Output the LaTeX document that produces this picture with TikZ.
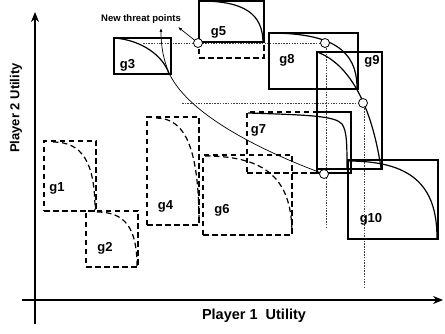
\documentclass[tikz,border=0pt]{standalone}
\usepackage{fontspec}
\setmainfont{Liberation Sans}
\usepackage{tikz}
\usetikzlibrary{arrows.meta}
\usetikzlibrary{calc}
\tikzset{every picture/.style={line width=1.2pt}}

\begin{document}
\begin{tikzpicture}[x=1pt, y=-1pt,
  dashbox/.style={draw, dash pattern=on 5.5pt off 3.5pt, inner sep=0pt},
  solidbox/.style={draw, inner sep=0pt},
  glabel/.style={font=\fontsize{13}{15}\selectfont\bfseries, inner sep=0pt},
  dotline/.style={line width=0.6pt, black!75, dash pattern=on 1.5pt off 1.2pt},
  threat/.style={circle, draw, fill=white, line width=0.8pt, minimum size=9pt, inner sep=0pt}]
\useasboundingbox (0,0) rectangle (445,334);

% axes
\coordinate (o1) at (22,300);
\coordinate (xe) at (443,300);
\coordinate (o2) at (35,324);
\coordinate (ye) at (35,12);
\draw [-{Stealth[length=10pt,width=8pt]}, line width=1.3pt] (o1) -- (xe);
\draw [-{Stealth[length=10pt,width=8pt]}, line width=1.3pt] (o2) -- (ye);
\node (xl) at (254,316) [font=\fontsize{14.5}{16}\selectfont\bfseries] {Player 1\ \ Utility};
\node (yl) at (16,108) [rotate=90, font=\fontsize{13}{15}\selectfont\bfseries] {Player 2 Utility};

% dotted guide lines
\coordinate (d1) at (143,43);
\coordinate (d2) at (182,103);
\coordinate (d3) at (326,229);
\coordinate (d4) at (364,288);
\draw [dotline] (d1) -- (325,43);
\draw [dotline] (d2) -- (363,103);
\draw [dotline] (326,43) -- (d3);
\draw [dotline] (364,103) -- (d4);

% original games
\node (g1) at (70,176) [dashbox, minimum width=52pt, minimum height=70pt] {};
\node (g2) at (112,239) [dashbox, minimum width=52pt, minimum height=56pt] {};
\node (g4) at (173,171) [dashbox, minimum width=52pt, minimum height=108pt] {};
\node (g6) at (247.5,195) [dashbox, minimum width=89pt, minimum height=80pt] {};
\node (g7) at (299,142.5) [dashbox, minimum width=104pt, minimum height=61pt] {};
\node (g5o) at (231.5,50) [dashbox, minimum width=65pt, minimum height=16pt] {};
\draw [dash pattern=on 5.5pt off 3.5pt] (53,142) .. controls (82,142) and (95,162) .. (95,210);
\draw [dash pattern=on 5.5pt off 3.5pt] (97,212) .. controls (125,212) and (137,228) .. (137,266);
\draw [dash pattern=on 5.5pt off 3.5pt] (156,118) .. controls (186,118) and (199,150) .. (199,224);
\draw [dash pattern=on 5.5pt off 3.5pt] (205,156) .. controls (266,156) and (292,179) .. (292,234);

% solid games
\node (g3) at (142.5,56) [solidbox, minimum width=57pt, minimum height=36pt] {};
\node (g5) at (231.5,21.5) [solidbox, minimum width=65pt, minimum height=41pt] {};
\node (g7s) at (334,142.5) [solidbox, minimum width=34pt, minimum height=61pt] {};
\node (g8) at (313.5,61) [solidbox, minimum width=89pt, minimum height=56pt] {};
\node (g9) at (349.5,110.5) [solidbox, minimum width=65pt, minimum height=117pt] {};
\node (g10) at (393,199.5) [solidbox, minimum width=90pt, minimum height=79pt] {};
\draw (114,38) .. controls (141.5,39.8) and (163.5,56) .. (169,74);
\draw (200,1) .. controls (244,1) and (263,13.6) .. (263,43);
\draw (248,113) .. controls (310,115) and (335,116) .. (342,124) .. controls (347,131) and (347,145) .. (347,170);
\draw (269,33) .. controls (331,33) and (357,49.5) .. (357,88);
\draw (317,52) .. controls (349,63.6) and (371.4,104.2) .. (381,168);
\draw (348,161) .. controls (410,161) and (437,184) .. (437,238);

% labels
\node (l1) at (57,188) [glabel] {g1};
\node (l2) at (105,248) [glabel] {g2};
\node (l3) at (127.5,65) [glabel] {g3};
\node (l4) at (165.5,206) [glabel] {g4};
\node (l5) at (218.5,32) [glabel] {g5};
\node (l6) at (222,210.5) [glabel] {g6};
\node (l7) at (258.5,130) [glabel] {g7};
\node (l8) at (287,60.5) [glabel] {g8};
\node (l9) at (372,61) [glabel] {g9};
\node (l10) at (371,219) [glabel] {g10};

% threat points
\node (c5) at (198,43) [threat] {};
\node (c8) at (325,43) [threat] {};
\node (c9) at (363,103) [threat] {};
\node (c7) at (324,174) [threat] {};
\node (tp) at (141,19.5) [font=\fontsize{9.5}{11}\selectfont\bfseries, inner sep=0pt] {New threat points};
\coordinate (a1) at (178,27);
\coordinate (a2) at (161,28);
\draw [-{Latex[length=4pt,width=3pt]}, line width=0.7pt] (c5) -- (a1);
\draw [-{Latex[length=4pt,width=3pt]}, line width=0.7pt] (c7) .. controls (260,150) and (190,115) .. (170,75) .. controls (163,60) and (161,45) .. (a2);
\end{tikzpicture}
\end{document}
